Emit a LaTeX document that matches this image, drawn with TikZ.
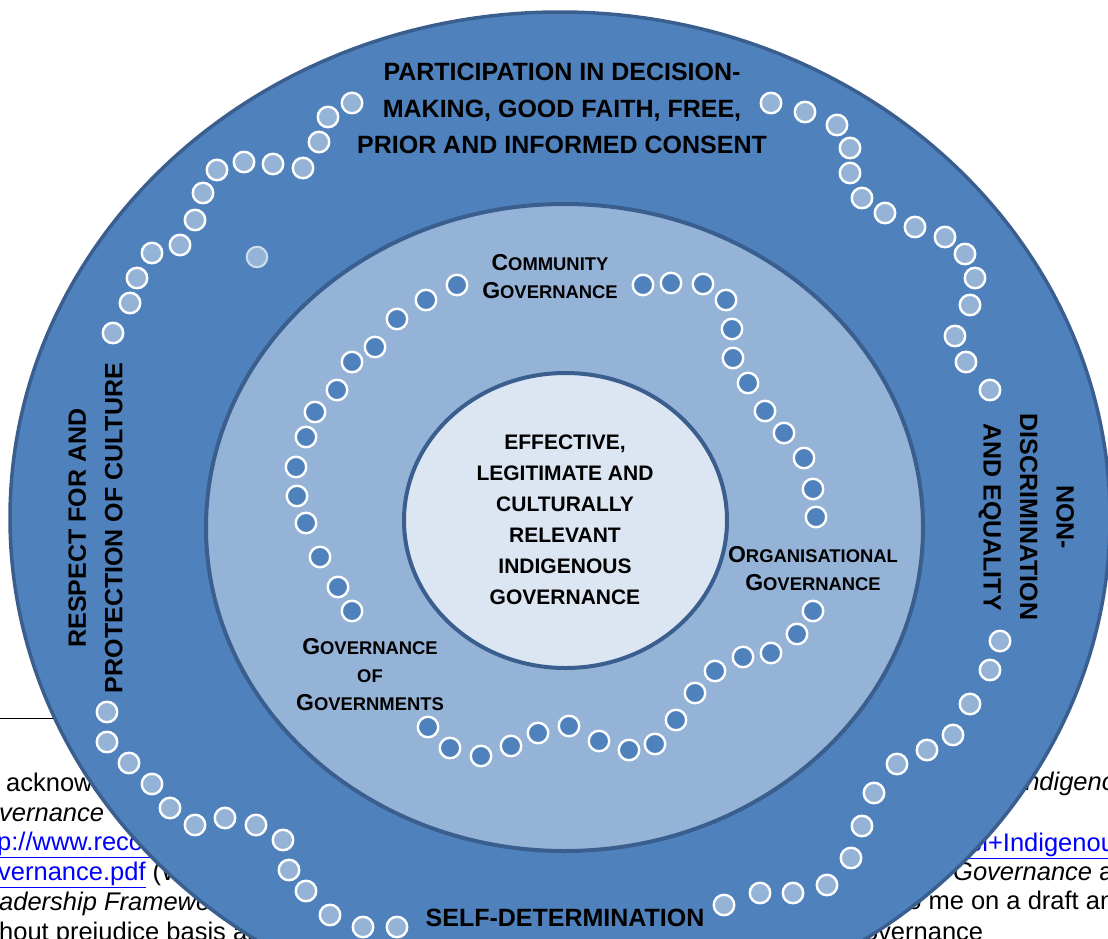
\documentclass[tikz,border=0pt]{standalone}
\usepackage{fontspec}
\setmainfont{Liberation Sans}
\definecolor{ringA}{HTML}{4F81BD}
\definecolor{ringB}{HTML}{95B3D7}
\definecolor{ringC}{HTML}{DCE6F2}
\definecolor{edgecol}{HTML}{3A5F8F}
\definecolor{linkblue}{HTML}{0000FF}
\newcommand{\scap}[2]{{\fontsize{23}{28}\selectfont #1}{\fontsize{18.4}{28}\selectfont #2}}
\newcommand{\scsmall}[1]{{\fontsize{18.4}{28}\selectfont #1}}
\newcommand{\lnk}[1]{{\color{linkblue}\underline{#1}}}
\begin{document}
\begin{tikzpicture}[x=1pt,y=-1pt,
  dotL/.style={circle, fill=ringB, draw=white, line width=2.4pt, minimum size=20.5pt, inner sep=0pt},
  dotD/.style={circle, fill=ringA, draw=white, line width=2.4pt, minimum size=20.5pt, inner sep=0pt},
  dotF/.style={circle, fill=ringB, draw=white!55!ringB, line width=2pt, minimum size=20.5pt, inner sep=0pt},
  ringtext/.style={font=\fontsize{25}{36.5}\selectfont\bfseries, align=center, inner sep=0pt},
  coretext/.style={font=\fontsize{21}{31}\selectfont\bfseries, align=center, inner sep=0pt},
  subtext/.style={font=\fontsize{18.4}{28}\selectfont\bfseries, align=center, inner sep=0pt},
  bgtext/.style={anchor=base west, font=\fontsize{25.5}{30}\selectfont, inner sep=0pt},
  ringline/.style={draw=edgecol, line width=3.5pt}]
\useasboundingbox (0,0) rectangle (1108,938);
\clip (0,0) rectangle (1108,938);

% background page text (partly hidden by the diagram)
\draw[line width=1pt] (0,718) coordinate (rule1) -- (160,718) coordinate (rule2);
\node[bgtext] (l1) at (6,791) {acknowledge the work};
\node[bgtext] (l2) at (-1,821) {\textit{vernance}};
\node[bgtext] (l3) at (-3,850) {\lnk{p://www.reconciliation}};
\node[bgtext] (l4) at (-2,880) {\lnk{vernance.pdf} (Website};
\node[bgtext] (l5) at (-1,910) {\textit{adership Framework}};
\node[bgtext] (l6) at (-1,940) {hout prejudice basis and};
\node[bgtext] (r1) at (1018,790) {\textit{Indigenous}};
\node[bgtext] (r3) at (968,851) {\lnk{ol+Indigenous}};
\node[bgtext] (r4) at (953,880) {\textit{Governance} and};
\node[bgtext] (r5) at (900,909) {to me on a draft and};
\node[bgtext] (r6) at (844,940) {Governance};

% rings
\path[fill=ringA, ringline] (560,518) ellipse [x radius=550, y radius=506];
\path[fill=ringB, ringline, line width=4pt] (564.5,527.5) ellipse [x radius=358.5, y radius=323.5];
\path[fill=ringC, ringline, line width=4pt] (565.5,520.5) ellipse [x radius=161.5, y radius=147.5];

% outer ring dots
\foreach \x/\y [count=\i] in {352/103,328/117,319/142,303/168,273/164,244/162,217/170,203/193,195/220,180/245,152/253,137/278,130/303,113/333,
  107/712,107/742,129/763,152/784,170/808,195/825,225/818,256/825,283/840,289/870,306/891,330/915,363/927,397/927,
  724/905,760/893,793/893,827/885,851/858,862/826,874/793,897/764,927/750,953/735,970/704,990/670,1000/641,
  990/390,966/362,955/336,970/305,975/278,965/254,945/237,915/227,885/213,862/198,850/173,850/148,837/125,805/112,771/103}
  \node[dotL] (o\i) at (\x,\y) {};
\node[dotF] (ofaint) at (257,257) {};

% middle ring dots
\foreach \x/\y [count=\i] in {457/285,426/300,397/319,375/347,352/362,337/390,315/412,306/437,296/467,297/496,306/523,320/557,338/587,352/611,
  428/727,450/748,481/756,511/746,538/733,569/726,599/741,629/750,655/744,676/720,695/693,715/671,743/657,771/653,797/634,813/611,
  816/517,813/489,804/458,784/433,765/411,748/383,733/358,732/329,726/300,703/284,671/283,643/285}
  \node[dotD] (m\i) at (\x,\y) {};

% outer ring labels
\node[ringtext] (top) at (562,108.5) {PARTICIPATION IN DECISION-\\MAKING, GOOD FAITH, FREE,\\PRIOR AND INFORMED CONSENT};
\node[ringtext, rotate=90] (left) at (95.5,528) {RESPECT FOR AND\\PROTECTION OF CULTURE};
\node[ringtext, rotate=-90] (right) at (1026.5,517) {NON-\\DISCRIMINATION\\AND EQUALITY};
\node[ringtext] (bottom) at (565,918) {SELF-DETERMINATION};

% middle ring labels
\node[subtext] (comm) at (550,277) {\scap{C}{OMMUNITY}\\\scap{G}{OVERNANCE}};
\node[subtext] (org) at (813,568.5) {\scap{O}{RGANISATIONAL}\\\scap{G}{OVERNANCE}};
\node[subtext] (gov) at (370,675) {\scap{G}{OVERNANCE}\\\scsmall{OF}\\\scap{G}{OVERNMENTS}};

% core
\node[coretext] (core) at (565,520) {EFFECTIVE,\\LEGITIMATE AND\\CULTURALLY\\RELEVANT\\INDIGENOUS\\GOVERNANCE};
\end{tikzpicture}
\end{document}
